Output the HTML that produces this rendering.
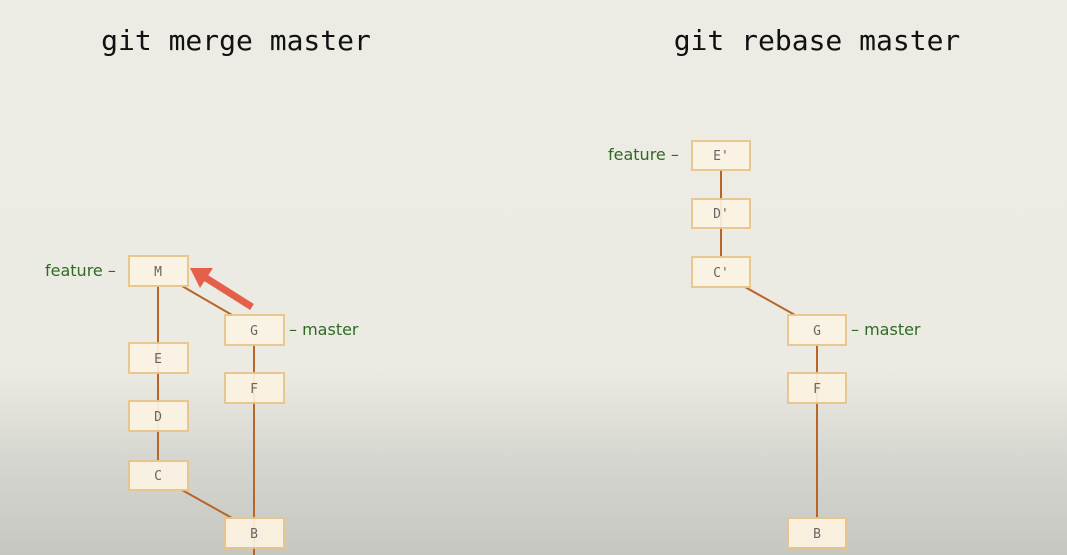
<!DOCTYPE html>
<html><head><meta charset="utf-8"><style>
html,body{margin:0;padding:0;}
body{width:1067px;height:555px;overflow:hidden;background:linear-gradient(#ecebe4 0px,#ebebe3 370px,#d6d6d0 460px,#c6c7c1 555px);}
</style></head><body>
<svg width="1067" height="555" viewBox="0 0 1067 555" xmlns="http://www.w3.org/2000/svg" style="position:absolute;left:0;top:0">
<g font-family="DejaVu Sans Mono, Liberation Mono, monospace" font-size="28" fill="#111">
<text x="236" y="50" text-anchor="middle">git merge master</text>
<text x="817" y="50" text-anchor="middle">git rebase master</text>
</g>
<g stroke="#b8652a" stroke-width="2" fill="none">
<line x1="158" y1="286" x2="158" y2="461"/>
<line x1="182" y1="286" x2="232" y2="315"/>
<line x1="254" y1="345" x2="254" y2="555"/>
<line x1="182" y1="490" x2="232" y2="518"/>
<line x1="721" y1="170" x2="721" y2="257"/>
<line x1="745" y1="287" x2="795" y2="315"/>
<line x1="817" y1="345" x2="817" y2="518"/>
</g>
<g fill="#fcf3e2" stroke="#e9c48a" stroke-width="2" opacity="0.92">
<rect x="129" y="256" width="59" height="30"/>
<rect x="225" y="315" width="59" height="30"/>
<rect x="129" y="343" width="59" height="30"/>
<rect x="225" y="373" width="59" height="30"/>
<rect x="129" y="401" width="59" height="30"/>
<rect x="129" y="461" width="59" height="29"/>
<rect x="225" y="518" width="59" height="30"/>
<rect x="692" y="141" width="58" height="29"/>
<rect x="692" y="199" width="58" height="29"/>
<rect x="692" y="257" width="58" height="30"/>
<rect x="788" y="315" width="58" height="30"/>
<rect x="788" y="373" width="58" height="30"/>
<rect x="788" y="518" width="58" height="30"/>
</g>
<g font-family="DejaVu Sans Mono, monospace" font-size="13" fill="#666" text-anchor="middle">
<text x="158" y="276">M</text>
<text x="254" y="335">G</text>
<text x="158" y="363">E</text>
<text x="254" y="393">F</text>
<text x="158" y="421">D</text>
<text x="158" y="480">C</text>
<text x="254" y="538">B</text>
<text x="721" y="160">E'</text>
<text x="721" y="218">D'</text>
<text x="721" y="277">C'</text>
<text x="817" y="335">G</text>
<text x="817" y="393">F</text>
<text x="817" y="538">B</text>
</g>
<g font-family="DejaVu Sans, Liberation Sans, sans-serif" font-size="16" fill="#2f6a23">
<text x="45" y="276">feature –</text>
<text x="289" y="335">– master</text>
<text x="608" y="160">feature –</text>
<text x="851" y="335">– master</text>
</g>
<line x1="252" y1="307" x2="206" y2="278" stroke="#e5604a" stroke-width="7"/>
<polygon points="190,268 213,268 200,288" fill="#e5604a"/>
</svg>
</body></html>
